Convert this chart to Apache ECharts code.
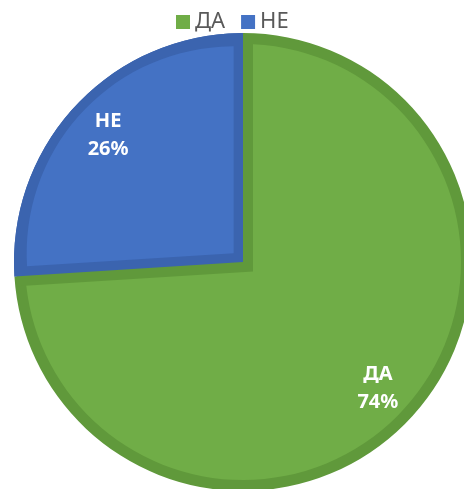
<!DOCTYPE html>
<html>
<head>
<meta charset="utf-8">
<script src="https://cdn.jsdelivr.net/npm/echarts@6/dist/echarts.min.js"></script>
<style>
  html, body { margin: 0; padding: 0; background: #fff; }
  #chart { width: 464px; height: 489px; }
</style>
</head>
<body>
<div id="chart"></div>
<script>
  // данни
  var categories = ['ДА', 'НЕ'];
  var values = [74, 26];
  var lightColors = ['#70AD47', '#4472C4'];
  var darkColors = ['#60993B', '#3B64AF'];

  // геометрия на кръга (px)
  var CX = 243, CY = 262, R = 229, BAND = 11;

  var chart = echarts.init(document.getElementById('chart'));
  var hidden = { color: 'transparent', borderWidth: 0 };

  // data за серия: стил за всеки сектор (null = скрит)
  function build(styles) {
    return categories.map(function (name, i) {
      return { name: name, value: values[i], itemStyle: styles[i] || hidden };
    });
  }

  // изместване на светлия сектор "НЕ" по ъглополовящата (ефект на релеф)
  var total = values[0] + values[1];
  var span = 360 * values[1] / total;
  var mid = (90 + span / 2) * Math.PI / 180;
  var shift = BAND / Math.sin(span / 2 * Math.PI / 180);
  var inCenter = [CX + shift * Math.cos(mid) * 0.85, CY - shift * Math.sin(mid) * 0.85];

  function pie(z, center, radius, data, extra) {
    var s = {
      type: 'pie', z: z, center: center, radius: radius,
      startAngle: 90, clockwise: true, silent: true,
      avoidLabelOverlap: false, label: { show: false }, labelLine: { show: false },
      data: data
    };
    for (var k in extra) s[k] = extra[k];
    return s;
  }

  var option = {
    animation: false,
    legend: {
      top: 6, left: 171,
      icon: 'rect', itemWidth: 14, itemHeight: 14, itemGap: 16,
      textStyle: { fontFamily: 'Noto Sans', fontSize: 22, color: '#595959' },
      data: categories.map(function (n, i) {
        return { name: n, itemStyle: { color: lightColors[i] } };
      })
    },
    series: [
      pie(1, [CX, CY], R, build([{ color: darkColors[0] }, { color: darkColors[1] }])),
      pie(2, [CX, CY], R - BAND, build([{ color: lightColors[0] }, null])),
      pie(3, [CX, CY], R - 12, build([null, {
        color: 'transparent', borderColor: darkColors[0],
        borderWidth: 2 * BAND - 2, borderJoin: 'miter'
      }])),
      pie(4, [CX, CY], R, build([null, { color: darkColors[1] }])),
      pie(5, inCenter, R - 22, build([null, { color: lightColors[1] }])),
      pie(6, [CX, CY], [140, 224], build([null, null]), {
        label: {
          show: true, position: 'inside', formatter: '{b}\n{c}%',
          fontFamily: 'Noto Sans', fontWeight: 'bold', fontSize: 20,
          lineHeight: 28, color: '#fff'
        }
      })
    ]
  };
  chart.setOption(option);
</script>
</body>
</html>
